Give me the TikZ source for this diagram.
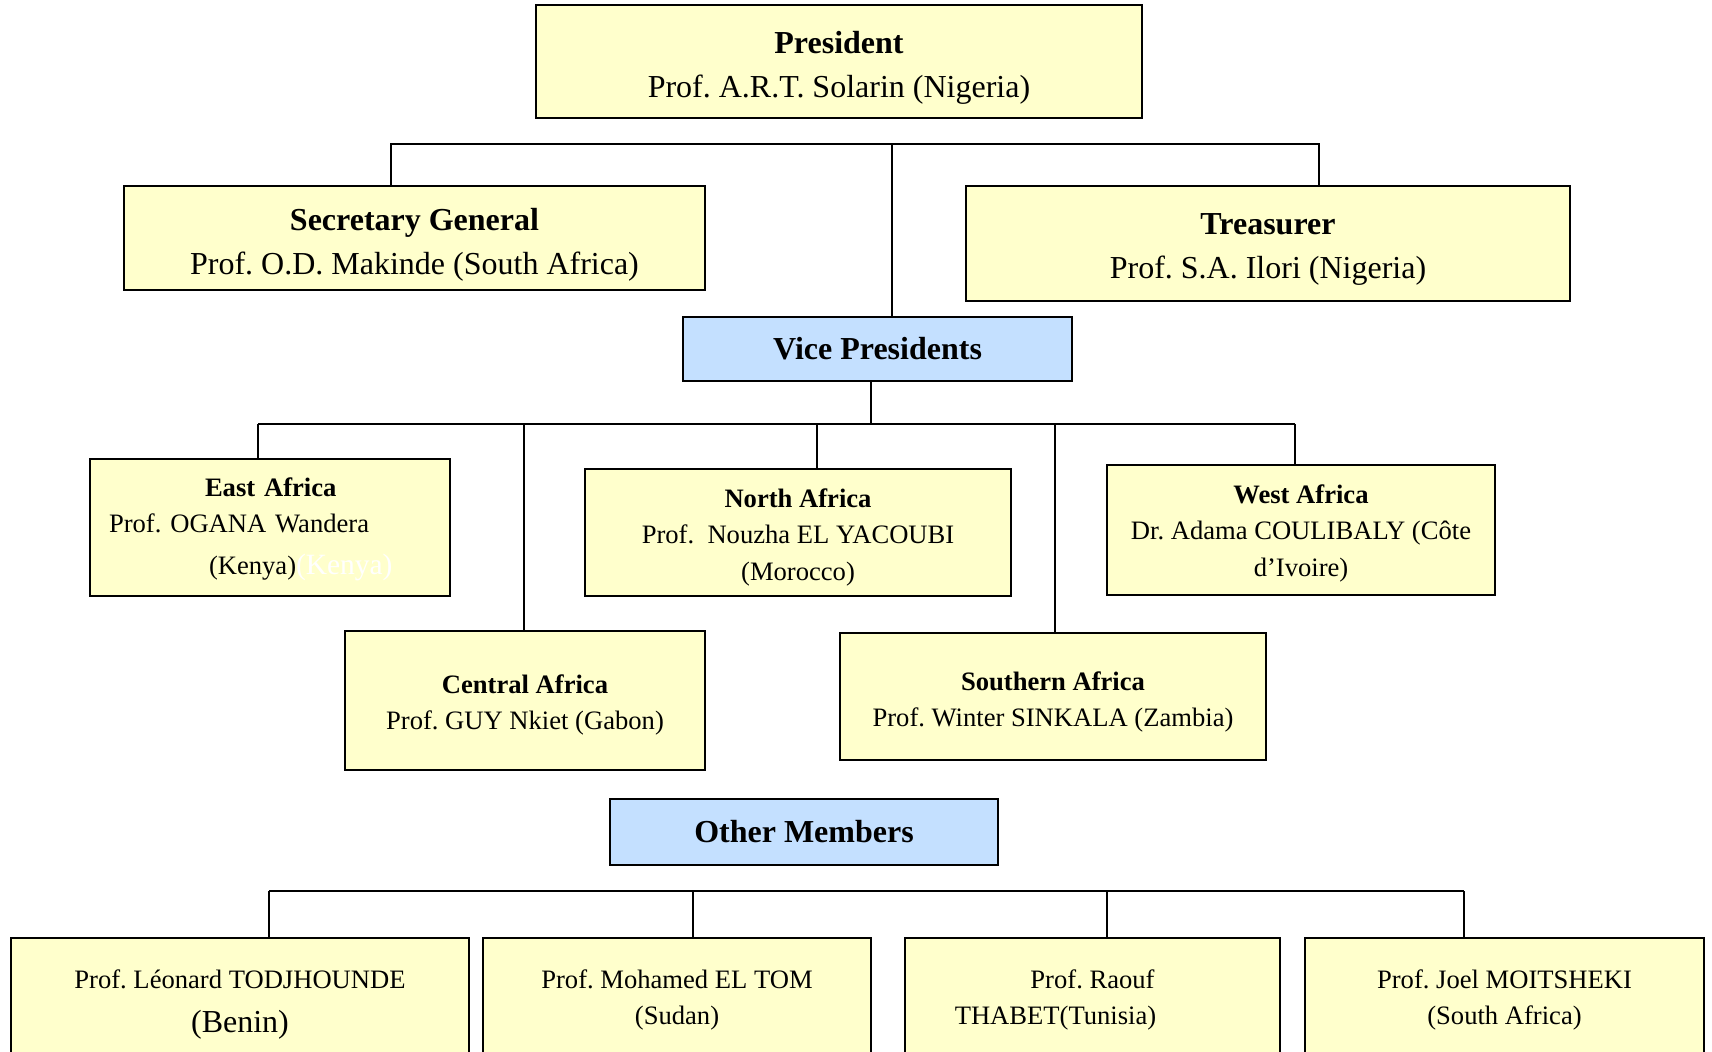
\documentclass[tikz,border=0pt]{standalone}
\usepackage{fontspec}
\setmainfont{Liberation Serif}
\frenchspacing
\usetikzlibrary{positioning}
\definecolor{boxyellow}{RGB}{255,255,204}
\definecolor{boxblue}{RGB}{196,224,255}
\newcommand\dropby[1]{\rule{0pt}{#1}}

\begin{document}
\begin{tikzpicture}[x=0.5pt, y=-0.5pt,
    mainbox/.style={draw, line width=1pt, fill=boxyellow, align=center, inner xsep=4pt, inner ysep=2pt, font=\fontsize{16}{22}\selectfont},
    headbox/.style={mainbox, fill=boxblue},
    regionbox/.style={mainbox, font=\fontsize{13.3}{18.3}\selectfont},
    memberbox/.style={regionbox, anchor=north, minimum height=62pt},
    wire/.style={line width=0.7pt}]
  \useasboundingbox (0,0) rectangle (1712,1052);
  \clip (0,0) rectangle (1712,1052);

  % officers
  \node[mainbox, minimum width=303pt, minimum height=56.5pt] (president) at (839,61.5) {\dropby{17.5pt}\textbf{President}\\Prof. A.R.T. Solarin (Nigeria)};
  \node[mainbox, minimum width=290.5pt, minimum height=52pt] (secretary) at (414.5,238) {\dropby{17.7pt}\textbf{Secretary General}\\Prof. O.D. Makinde (South Africa)};
  \node[mainbox, minimum width=302pt, minimum height=57.5pt] (treasurer) at (1268,243.5) {\dropby{16.5pt}\textbf{Treasurer}\\Prof. S.A. Ilori (Nigeria)};
  \node[headbox, minimum width=194.5pt, minimum height=32pt] (vp) at (877.5,349) {\textbf{Vice Presidents}};

  % regions
  \node[regionbox, align=left, inner xsep=9.5pt, text width=161pt, minimum height=68.5pt] (east) at (270,527.5)
    {\dropby{11pt}\hspace*{48pt}\textbf{East Africa}\\Prof. OGANA Wandera\\[2.5pt]\hspace*{50pt}(Kenya){\fontsize{14.7}{18}\selectfont\textcolor{white}{(Kenya)}}};
  \node[regionbox, minimum width=213pt, minimum height=63.5pt] (north) at (798,532.5) {\dropby{14pt}\textbf{North Africa}\\Prof.\ \ Nouzha EL YACOUBI\\(Morocco)};
  \node[regionbox, minimum width=194pt, minimum height=65pt] (west) at (1301,530) {\dropby{12.8pt}\textbf{West Africa}\\Dr. Adama COULIBALY (Côte\\d’Ivoire)};
  \node[regionbox, minimum width=180pt, minimum height=69.5pt] (central) at (525,700.5) {\dropby{14pt}\textbf{Central Africa}\\Prof. GUY Nkiet (Gabon)};
  \node[regionbox, minimum width=213pt, minimum height=63.5pt] (southern) at (1053,696.5) {\dropby{15pt}\textbf{Southern Africa}\\Prof. Winter SINKALA (Zambia)};

  % other members
  \node[headbox, minimum width=194pt, minimum height=33pt] (other) at (804,832) {\textbf{Other Members}};
  \node[memberbox, minimum width=229pt] (benin) at (240,937) {\dropby{13.8pt}Prof. Léonard TODJHOUNDE\\[4pt]{\fontsize{16}{22}\selectfont(Benin)}};
  \node[memberbox, minimum width=194pt] (sudan) at (677,937) {Prof. Mohamed EL TOM\\(Sudan)};
  \node[memberbox, minimum width=187.5pt] (tunisia) at (1092.5,937) {Prof. Raouf\\THABET(Tunisia)\hspace*{37pt}};
  \node[memberbox, minimum width=199.5pt] (southafrica) at (1504.5,937) {Prof. Joel MOITSHEKI\\(South Africa)};

  % top bus
  \coordinate (topL) at (391,144);
  \coordinate (topC) at (892,144);
  \coordinate (topR) at (1319,144);
  \draw[wire] (topL |- secretary.north) -- (topL) -- (topR) -- (topR |- treasurer.north);
  \draw[wire] (topC) -- (topC |- vp.north);

  % vice presidents bus
  \coordinate (vpM) at (871,424);
  \coordinate (vpE) at (258,424);
  \coordinate (vpCe) at (524,424);
  \coordinate (vpN) at (817,424);
  \coordinate (vpS) at (1055,424);
  \coordinate (vpW) at (1295,424);
  \draw[wire] (vpM |- vp.south) -- (vpM);
  \draw[wire] (vpE) -- (vpW);
  \draw[wire] (vpE) -- (vpE |- east.north);
  \draw[wire] (vpCe) -- (vpCe |- central.north);
  \draw[wire] (vpN) -- (vpN |- north.north);
  \draw[wire] (vpS) -- (vpS |- southern.north);
  \draw[wire] (vpW) -- (vpW |- west.north);

  % members bus
  \coordinate (omA) at (269,891);
  \coordinate (omB) at (693,891);
  \coordinate (omC) at (1107,891);
  \coordinate (omD) at (1464,891);
  \draw[wire] (omA) -- (omD);
  \draw[wire] (omA) -- (omA |- benin.north);
  \draw[wire] (omB) -- (omB |- sudan.north);
  \draw[wire] (omC) -- (omC |- tunisia.north);
  \draw[wire] (omD) -- (omD |- southafrica.north);
\end{tikzpicture}
\end{document}
